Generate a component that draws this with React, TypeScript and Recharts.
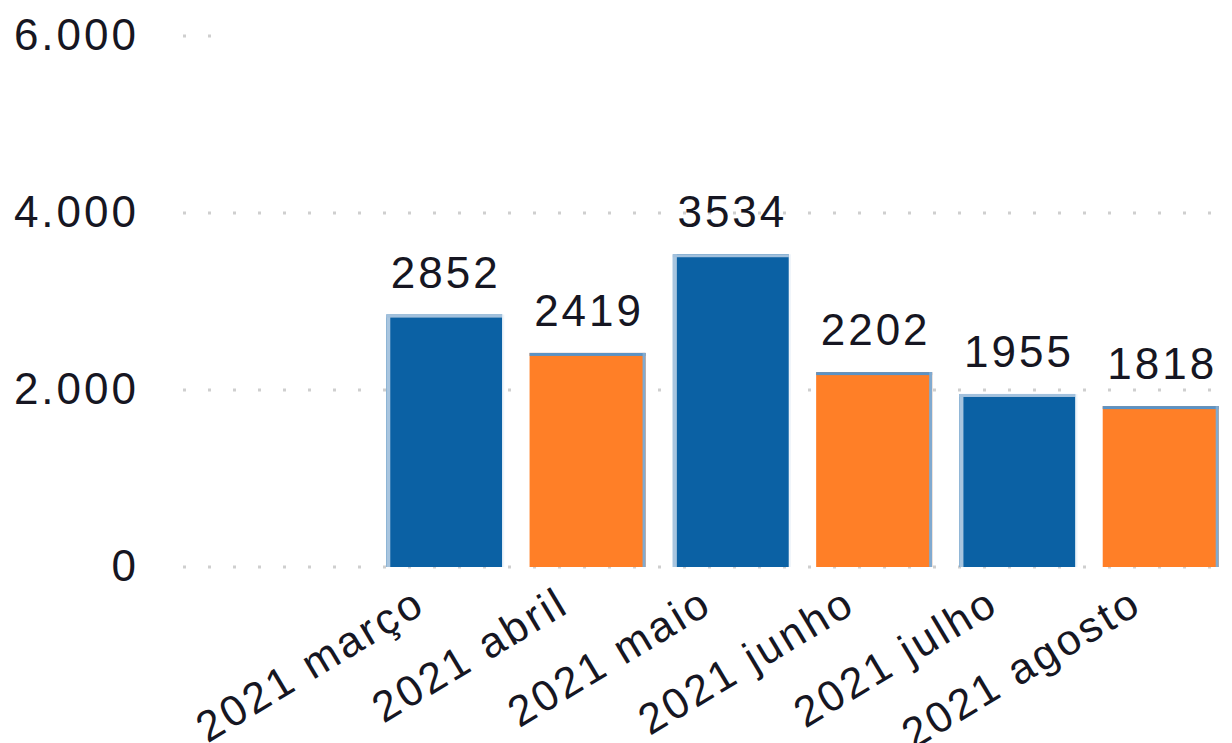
import React from 'react';
import { BarChart, Bar, XAxis, YAxis, CartesianGrid, LabelList, Cell } from 'recharts';

// monthly totals; the first slot is empty in the original
const months = ['', '2021 março', '2021 abril', '2021 maio', '2021 junho', '2021 julho', '2021 agosto'];
const totals = [null, 2852, 2419, 3534, 2202, 1955, 1818];
const yTicks = [0, 2000, 4000, 6000];

const data = months.map((name, i) => ({ name, value: totals[i] }));

const BLUE = '#0B61A4';
const ORANGE = '#FF7F27';
const TEXT = '#161622';
const FONT = '"Liberation Sans", Arial, sans-serif';

const fmt = (v: number) => String(v).replace(/\B(?=(\d{3})+(?!\d))/g, '.');

function BarShape(props: any) {
  const { x, y, width, height, fill } = props;
  if (!height || height <= 0) return null;
  const isBlue = fill === BLUE;
  return (
    <g>
      <rect x={x} y={y} width={width} height={height} fill={fill} />
      {isBlue ? (
        <>
          <rect x={x} y={y} width={4} height={height} fill="#a8c5df" />
          <rect x={x} y={y} width={width} height={3} fill="#a3c1dd" />
          <rect x={x + width} y={y} width={2} height={height} fill="#eef4fa" />
        </>
      ) : (
        <>
          <rect x={x} y={y} width={width} height={3} fill="#5b93c6" />
          <rect x={x + width - 3} y={y} width={3} height={height} fill="#80aad0" />
        </>
      )}
    </g>
  );
}

function YTick({ x, y, payload }: any) {
  return (
    <text x={x} y={y} dy={14} textAnchor="end" fill={TEXT} fontSize={44} fontFamily={FONT} letterSpacing={3}>
      {fmt(payload.value)}
    </text>
  );
}

function XTick({ x, y, payload }: any) {
  if (!payload.value) return null;
  const tx = x - 16;
  const ty = y + 36;
  return (
    <text
      x={tx}
      y={ty}
      transform={`rotate(-31 ${tx} ${ty})`}
      textAnchor="end"
      fill={TEXT}
      fontSize={43}
      fontFamily={FONT}
      letterSpacing={3}
    >
      {payload.value}
    </text>
  );
}

function ValueLabel({ x, y, width, value }: any) {
  if (value == null) return null;
  return (
    <text x={x + width / 2 + 1.5} y={y - 27} textAnchor="middle" fill={TEXT} fontSize={44} fontFamily={FONT} letterSpacing={3}>
      {value}
    </text>
  );
}

function GridLine(p: any) {
  // the top line only shows its first couple of dots in the original
  const x2 = p.y1 < 60 ? p.x1 + 30 : p.x2;
  return (
    <line key={p.key} x1={p.x1 - 6} y1={p.y1} x2={x2} y2={p.y2} stroke="#cfcfcf" strokeWidth={3} strokeDasharray="3 22" />
  );
}

export default function App() {
  return (
    <div style={{ position: 'absolute', left: 0, top: 0, background: '#fff' }}>
      <BarChart width={1232} height={743} data={data} margin={{ top: 36, right: 0, left: 0, bottom: 0 }}>
        <CartesianGrid vertical={false} horizontal={GridLine} />
        <XAxis
          dataKey="name"
          axisLine={false}
          tickLine={false}
          interval={0}
          height={176}
          tick={<XTick />}
          padding={{ left: 40, right: 0 }}
        />
        <YAxis
          domain={[0, 6000]}
          ticks={yTicks}
          width={189}
          axisLine={false}
          tickLine={false}
          tickSize={0}
          tickMargin={50}
          tick={<YTick />}
        />
        <Bar dataKey="value" barSize={116} isAnimationActive={false} shape={<BarShape />}>
          {data.map((d, i) => (
            <Cell key={d.name + i} fill={i % 2 === 1 ? BLUE : ORANGE} />
          ))}
          <LabelList dataKey="value" content={<ValueLabel />} />
        </Bar>
      </BarChart>
    </div>
  );
}
